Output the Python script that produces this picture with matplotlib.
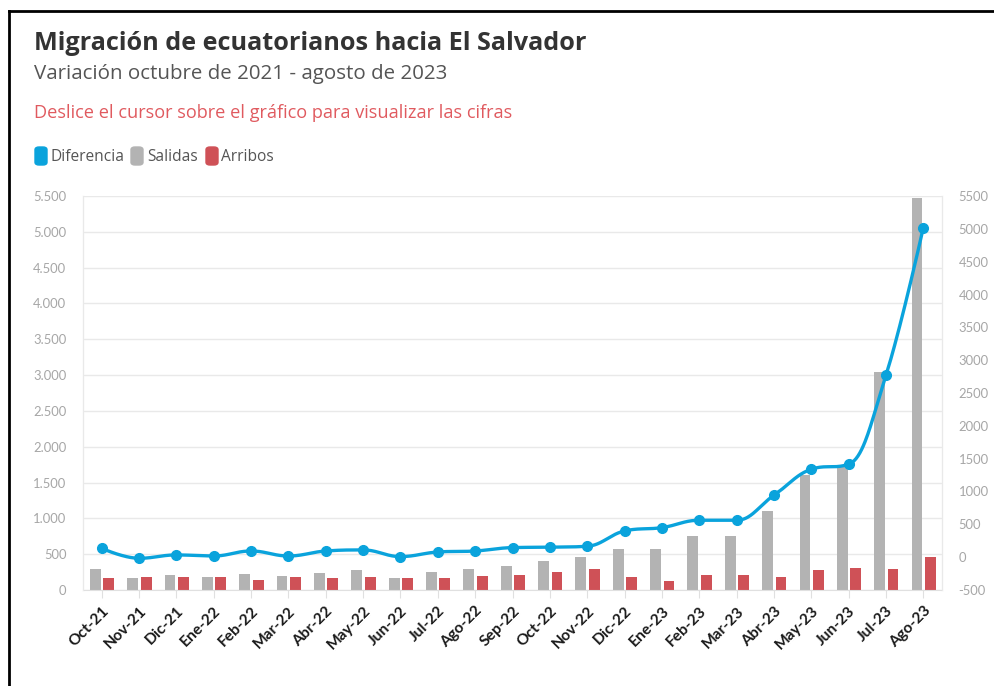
import numpy as np
import matplotlib
matplotlib.use("Agg")
import matplotlib.pyplot as plt
from matplotlib.patches import FancyBboxPatch
from matplotlib.lines import Line2D

plt.rcParams['font.family'] = ['Lato', 'DejaVu Sans']

meses = ["Oct-21", "Nov-21", "Dic-21", "Ene-22", "Feb-22", "Mar-22", "Abr-22",
         "May-22", "Jun-22", "Jul-22", "Ago-22", "Sep-22", "Oct-22", "Nov-22",
         "Dic-22", "Ene-23", "Feb-23", "Mar-23", "Abr-23", "May-23", "Jun-23",
         "Jul-23", "Ago-23"]
salidas = [290, 163, 209, 186, 219, 195, 242, 275, 163, 246, 289, 340, 400, 456,
           567, 567, 758, 758, 1106, 1609, 1711, 3050, 5477]
arribos = [163, 177, 186, 177, 139, 177, 168, 177, 163, 172, 190, 205, 256, 289,
           177, 121, 209, 209, 186, 279, 307, 298, 465]
diferencia = [135, -17, 34, 18, 94, 18, 94, 110, 9, 79, 94, 146, 152, 166,
              399, 450, 562, 562, 943, 1339, 1415, 2770, 5019]

azul = "#0aa3dc"
gris = "#b3b3b3"
rojo = "#cf5157"

W, H = 994, 686
fig = plt.figure(figsize=(W / 100, H / 100), dpi=100)

def px(v):
    # pixel size -> points
    return v * 0.72

# axes box in pixels: left 83, right 942, top 196, bottom 590
ax = fig.add_axes([83 / W, (H - 590) / H, 859 / W, 394 / H])
ax2 = ax.twinx()

x = np.arange(len(meses))
ax.bar(x - 0.17, salidas, width=0.29, color=gris, zorder=2)
ax.bar(x + 0.19, arribos, width=0.29, color=rojo, zorder=2)

ax.set_xlim(-0.5, len(meses) - 0.5)
ax.set_ylim(0, 5500)
ax2.set_ylim(-500, 5500)


def spline(xp, yp, smoothing=1.5):
    # bezier control points, highcharts-style spline
    n = len(xp)
    den = smoothing + 1
    lc = [(xp[i], yp[i]) for i in range(n)]
    rc = [(xp[i], yp[i]) for i in range(n)]
    for i in range(1, n - 1):
        px_, py_ = xp[i], yp[i]
        lx = (smoothing * px_ + xp[i - 1]) / den
        ly = (smoothing * py_ + yp[i - 1]) / den
        rx = (smoothing * px_ + xp[i + 1]) / den
        ry = (smoothing * py_ + yp[i + 1]) / den
        corr = (ry - ly) * (rx - px_) / (rx - lx) + py_ - ry
        ly += corr
        ry += corr
        if ly > yp[i - 1] and ly > py_:
            ly = max(yp[i - 1], py_)
            ry = 2 * py_ - ly
        elif ly < yp[i - 1] and ly < py_:
            ly = min(yp[i - 1], py_)
            ry = 2 * py_ - ly
        if ry > yp[i + 1] and ry > py_:
            ry = max(yp[i + 1], py_)
            ly = 2 * py_ - ry
        elif ry < yp[i + 1] and ry < py_:
            ry = min(yp[i + 1], py_)
            ly = 2 * py_ - ry
        lc[i] = (lx, ly)
        rc[i] = (rx, ry)
    t = np.linspace(0, 1, 40)[:, None]
    out = []
    for i in range(n - 1):
        p0 = np.array([xp[i], yp[i]])
        p1 = np.array(rc[i])
        p2 = np.array(lc[i + 1])
        p3 = np.array([xp[i + 1], yp[i + 1]])
        seg = ((1 - t)**3) * p0 + 3 * ((1 - t)**2) * t * p1 + 3 * (1 - t) * t**2 * p2 + t**3 * p3
        out.append(seg)
    out = np.vstack(out)
    return out[:, 0], out[:, 1]


xs, ys = spline(list(x.astype(float)), [float(v) for v in diferencia])
ax2.plot(xs, ys, color=azul, lw=2.4, zorder=3, solid_capstyle="round")
ax2.plot(x, diferencia, "o", color=azul, ms=7, zorder=4)

ax.set_yticks(np.arange(0, 5501, 500))
ax.set_yticklabels([f"{v:,}".replace(",", ".") for v in range(0, 5501, 500)])
ax2.set_yticks(np.arange(-500, 5501, 500))
ax2.set_yticklabels([str(v) for v in range(-500, 5501, 500)])

ax.grid(axis="y", color="#e9e9e9", lw=1, zorder=0)
ax.set_axisbelow(True)
for a in (ax, ax2):
    for s in ("top", "bottom"):
        a.spines[s].set_visible(False)
    a.spines["left"].set_color("#e9e9e9")
    a.spines["right"].set_color("#e9e9e9")
ax.spines["bottom"].set_visible(True)
ax.spines["bottom"].set_color("#e0e0e0")

ax.tick_params(axis="y", length=0, pad=12, labelsize=px(13), labelcolor="#a6a6a6")
ax2.tick_params(axis="y", length=0, pad=12, labelsize=px(13), labelcolor="#a6a6a6")
ax2.tick_params(axis="x", length=0)
ax.set_xticks(x)
ax.set_xticklabels(meses, rotation=45, ha="right", rotation_mode="anchor",
                   fontsize=px(15.5), fontweight="bold", color="#1a1a1a")
ax.tick_params(axis="x", length=6, color="#e0e0e0", pad=4)

# textos de cabecera
cab = ['Open Sans', 'DejaVu Sans']
fig.text(34 / W, 1 - 43 / H, "Migración de ecuatorianos hacia El Salvador",
         fontsize=px(25.3), fontweight="bold", color="#333333", va="center", family=cab)
fig.text(34 / W, 1 - 74 / H, "Variación octubre de 2021 - agosto de 2023",
         fontsize=px(20.5), color="#555555", va="center", family=cab)
fig.text(34 / W, 1 - 113 / H, "Deslice el cursor sobre el gráfico para visualizar las cifras",
         fontsize=px(18.2), color="#e05a5f", va="center", family=cab)

# leyenda
items = [("Diferencia", azul, 35, 50), ("Salidas", gris, 131, 147), ("Arribos", rojo, 206, 221)]
for nombre, col, x0, xt in items:
    fig.patches.append(FancyBboxPatch((x0 / W, 1 - 165 / H), 12 / W, 18 / H,
                                      boxstyle="round,pad=0,rounding_size=0.004",
                                      transform=fig.transFigure, color=col))
    fig.text(xt / W, 1 - 157 / H, nombre, fontsize=px(15.5),
             color="#555555", va="center", family=cab)

# marco
fig.add_artist(Line2D([9 / W, 9 / W], [0, 1 - 11 / H], color="black", lw=2,
                      transform=fig.transFigure))
fig.add_artist(Line2D([9 / W, 1], [1 - 11 / H, 1 - 11 / H], color="black", lw=2,
                      transform=fig.transFigure))

fig.savefig("out.png", dpi=100)
